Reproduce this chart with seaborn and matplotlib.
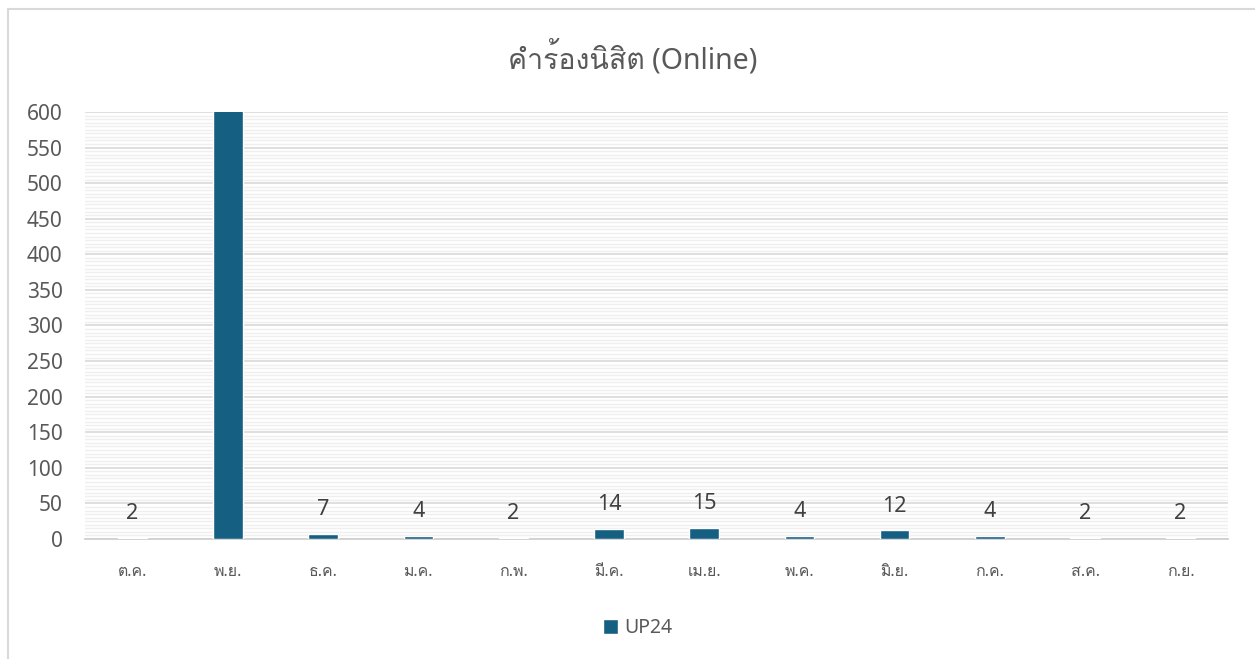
import matplotlib
matplotlib.use('Agg')
import matplotlib.pyplot as plt
import seaborn as sns
import pandas as pd
from matplotlib import font_manager
from matplotlib.ft2font import FT2Font
from matplotlib.patches import Rectangle
from matplotlib.ticker import MultipleLocator

months = ['ต.ค.', 'พ.ย.', 'ธ.ค.', 'ม.ค.', 'ก.พ.', 'มี.ค.',
          'เม.ย.', 'พ.ค.', 'มิ.ย.', 'ก.ค.', 'ส.ค.', 'ก.ย.']
up24 = [2, 650, 7, 4, 2, 14, 15, 4, 12, 4, 2, 2]
series_name = 'UP24'
title = 'คำร้องนิสิต (Online)'

dados = pd.DataFrame({'Mes': months, 'Valor': up24})

# procura uma fonte com glifos tailandeses
thai_font = None
for f in font_manager.fontManager.ttflist:
    try:
        if ord('ค') in FT2Font(f.fname).get_charmap():
            thai_font = f.name
            break
    except Exception:
        pass

sns.set_style('white')
familias = ['Noto Sans', 'DejaVu Sans']
if thai_font:
    familias = ['Noto Sans', thai_font, 'DejaVu Sans']
plt.rcParams['font.family'] = familias

cor = '#156082'
cinza = '#595959'

fig = plt.figure(figsize=(12.55, 6.59), dpi=100)
ax = fig.add_axes([0.0677, 0.1821, 0.9108, 0.648])

sns.barplot(data=dados, x='Mes', y='Valor', color=cor, width=0.31,
            saturation=1, ax=ax, label=series_name, zorder=3)

ax.set_ylim(0, 600)
ax.yaxis.set_major_locator(MultipleLocator(50))
ax.yaxis.set_minor_locator(MultipleLocator(5))
ax.grid(which='major', axis='y', color='#d9d9d9', lw=1.2, zorder=0)
ax.grid(which='minor', axis='y', color='#efefef', lw=1.0, zorder=0)
ax.grid(False, axis='x')
ax.set_axisbelow(True)

for s in ['top', 'right', 'left']:
    ax.spines[s].set_visible(False)
ax.spines['bottom'].set_color('#d0d0d0')
ax.spines['bottom'].set_linewidth(1.3)

ax.tick_params(axis='y', length=0, pad=16, labelsize=15, labelcolor=cinza)
ax.tick_params(axis='x', length=0, pad=18, labelsize=11.5, labelcolor=cinza)
ax.tick_params(which='minor', length=0)
ax.set_xlabel('')
ax.set_ylabel('')

# rótulos de dados
for i, v in enumerate(up24):
    ax.annotate(str(v), (i, v), xytext=(0, 10), textcoords='offset points',
                ha='center', va='bottom', fontsize=15.5, color='#404040')

fig.text(0.504, 0.912, title, ha='center', va='center', fontsize=20.5,
         color=cinza)

ax.legend(loc='center', bbox_to_anchor=(0.508, 0.047),
          bbox_transform=fig.transFigure, frameon=False, fontsize=14,
          labelcolor=cinza, handlelength=0.8, handleheight=0.8,
          handletextpad=0.3)

fig.patches.append(Rectangle((8 / 1255, -0.2), 1.2, 1.2 - 9 / 659,
                             transform=fig.transFigure, fill=False,
                             edgecolor='#d9d9d9', lw=1.5))

fig.savefig('out.png', dpi=100, facecolor='white')
